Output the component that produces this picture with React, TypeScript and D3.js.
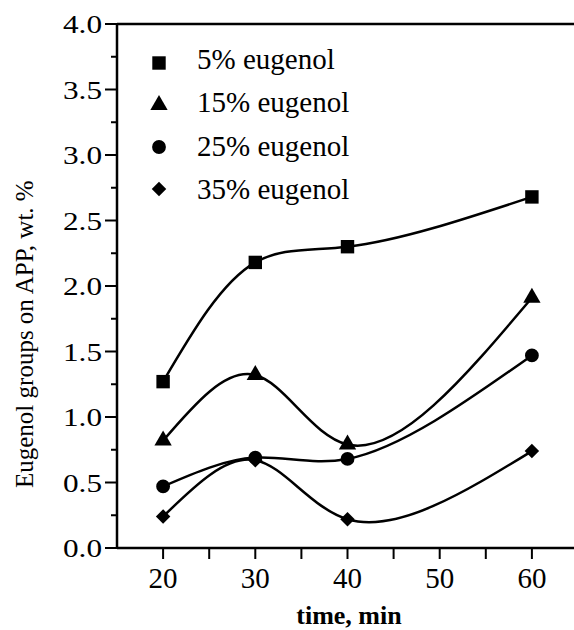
import React from "react";
import * as d3 from "d3";

const times = [20, 30, 40, 60];
const seriesNames = ["5% eugenol", "15% eugenol", "25% eugenol", "35% eugenol"];
const values5 = [1.27, 2.18, 2.3, 2.68];
const values15 = [0.82, 1.32, 0.79, 1.91];
const values25 = [0.47, 0.69, 0.68, 1.47];
const values35 = [0.24, 0.67, 0.22, 0.74];
const xTicks = [20, 30, 40, 50, 60];
const xMinorTicks = [25, 35, 45, 55];
const yTicks = [0, 0.5, 1, 1.5, 2, 2.5, 3, 3.5, 4];
const yMinorTicks = [0.25, 0.75, 1.25, 1.75, 2.25, 2.75, 3.25, 3.75];
const xTitle = "time, min";
const yTitle = "Eugenol groups on APP, wt. %";

const allSeries = [values5, values15, values25, values35];
const symbolKinds = ["square", "triangle", "circle", "diamond"];

const W = 574;
const H = 630;
const left = 117;
const top = 24;
const bottom = 548;

const x = d3.scaleLinear().domain([15, 65]).range([left, 578]);
const y = d3.scaleLinear().domain([0, 4]).range([bottom, top]);

const FONT = "'Liberation Serif', 'DejaVu Serif', 'Noto Serif', 'Times New Roman', Times, serif";

// natural cubic spline derivatives for values v over knot intervals h
function splineDerivs(v: number[], h: number[]) {
  const n = v.length - 1;
  const s: number[] = [];
  for (let i = 0; i < n; i++) s.push((v[i + 1] - v[i]) / h[i]);
  const M = new Array(n + 1).fill(0);
  const m = n - 1;
  if (m > 0) {
    const a = new Array(m).fill(0);
    const b = new Array(m).fill(0);
    const c = new Array(m).fill(0);
    const r = new Array(m).fill(0);
    for (let k = 0; k < m; k++) {
      const i = k + 1;
      a[k] = h[i - 1];
      b[k] = 2 * (h[i - 1] + h[i]);
      c[k] = h[i];
      r[k] = 6 * (s[i] - s[i - 1]);
    }
    for (let k = 1; k < m; k++) {
      const w = a[k] / b[k - 1];
      b[k] -= w * c[k - 1];
      r[k] -= w * r[k - 1];
    }
    const sol = new Array(m).fill(0);
    sol[m - 1] = r[m - 1] / b[m - 1];
    for (let k = m - 2; k >= 0; k--) sol[k] = (r[k] - c[k] * sol[k + 1]) / b[k];
    for (let k = 0; k < m; k++) M[k + 1] = sol[k];
  }
  const d: number[] = [];
  for (let i = 0; i < n; i++) d.push(s[i] - (h[i] * (2 * M[i] + M[i + 1])) / 6);
  d.push(s[n - 1] + (h[n - 1] * (M[n - 1] + 2 * M[n])) / 6);
  return d;
}

// parametric natural spline with centripetal knot spacing, as a d3 curve
function curveNaturalCentripetal(context: any) {
  let xs: number[] = [];
  let ys: number[] = [];
  return {
    areaStart() {},
    areaEnd() {},
    lineStart() {
      xs = [];
      ys = [];
    },
    point(px: number, py: number) {
      xs.push(+px);
      ys.push(+py);
    },
    lineEnd() {
      const n = xs.length - 1;
      if (n < 0) return;
      context.moveTo(xs[0], ys[0]);
      if (n < 1) return;
      const h: number[] = [];
      for (let i = 0; i < n; i++) {
        h.push(Math.sqrt(Math.hypot(xs[i + 1] - xs[i], ys[i + 1] - ys[i])) || 1);
      }
      const dx = splineDerivs(xs, h);
      const dy = splineDerivs(ys, h);
      for (let i = 0; i < n; i++) {
        const t = h[i] / 3;
        context.bezierCurveTo(
          xs[i] + dx[i] * t,
          ys[i] + dy[i] * t,
          xs[i + 1] - dx[i + 1] * t,
          ys[i + 1] - dy[i + 1] * t,
          xs[i + 1],
          ys[i + 1]
        );
      }
    },
  };
}

function Marker({ kind, cx, cy }: { kind: string; cx: number; cy: number }) {
  if (kind === "square") {
    const p = d3.symbol().type(d3.symbolSquare).size(180)();
    return <path d={p || ""} transform={`translate(${cx},${cy})`} fill="#000" />;
  }
  if (kind === "triangle") {
    const p = d3.symbol().type(d3.symbolTriangle).size(130)();
    return <path d={p || ""} transform={`translate(${cx},${cy})`} fill="#000" />;
  }
  if (kind === "circle") {
    const p = d3.symbol().type(d3.symbolCircle).size(150)();
    return <path d={p || ""} transform={`translate(${cx},${cy})`} fill="#000" />;
  }
  const p = d3.symbol().type(d3.symbolSquare).size(105)();
  return <path d={p || ""} transform={`translate(${cx},${cy}) rotate(45)`} fill="#000" />;
}

export default function App() {
  const line = d3
    .line<number>()
    .x((_, i) => x(times[i]))
    .y((v) => y(v))
    .curve(curveNaturalCentripetal as any);

  const ts = { fontFamily: FONT };

  return (
    <svg
      width={W}
      height={H}
      viewBox={`0 0 ${W} ${H}`}
      style={{ position: "absolute", left: 0, top: 0, background: "#fff" }}
    >
      <rect x={0} y={0} width={W} height={H} fill="#fff" />
      {/* axes */}
      <line x1={left} x2={W} y1={bottom} y2={bottom} stroke="#000" strokeWidth={2.5} />
      <line x1={left} x2={W} y1={top} y2={top} stroke="#000" strokeWidth={2.5} />
      <line x1={left} x2={left} y1={top} y2={bottom} stroke="#000" strokeWidth={2.5} />
      {yTicks.map((t) => (
        <g key={"yt" + t}>
          <line x1={left - 12} x2={left} y1={y(t)} y2={y(t)} stroke="#000" strokeWidth={2} />
          <text
            transform={`translate(102,${y(t) + 9}) scale(1.25,1)`}
            textAnchor="end"
            fontSize={25}
            style={ts}
          >
            {t.toFixed(1)}
          </text>
        </g>
      ))}
      {yMinorTicks.map((t) => (
        <line key={"ym" + t} x1={left - 6} x2={left} y1={y(t)} y2={y(t)} stroke="#000" strokeWidth={2} />
      ))}
      {xTicks.map((t) => (
        <g key={"xt" + t}>
          <line x1={x(t)} x2={x(t)} y1={bottom} y2={bottom + 11} stroke="#000" strokeWidth={2} />
          <text x={x(t)} y={588} textAnchor="middle" fontSize={29} style={ts}>
            {t}
          </text>
        </g>
      ))}
      {xMinorTicks.map((t) => (
        <line key={"xm" + t} x1={x(t)} x2={x(t)} y1={bottom} y2={bottom + 11} stroke="#000" strokeWidth={2} />
      ))}
      <text x={349} y={624} textAnchor="middle" fontSize={26} fontWeight="bold" style={ts}>
        {xTitle}
      </text>
      <text transform="translate(33,488) rotate(-90)" textAnchor="start" fontSize={25} style={ts}>
        {yTitle}
      </text>
      {/* series */}
      {allSeries.map((vals, si) => (
        <g key={"s" + si}>
          <path d={line(vals) || ""} fill="none" stroke="#000" strokeWidth={2.5} />
          {vals.map((v, i) => (
            <Marker key={i} kind={symbolKinds[si]} cx={x(times[i])} cy={y(v)} />
          ))}
        </g>
      ))}
      {/* legend */}
      {seriesNames.map((name, i) => (
        <g key={"lg" + i}>
          <Marker kind={symbolKinds[i]} cx={159} cy={63 + 42 * i} />
          <text x={197} y={69 + 43.3 * i} fontSize={29} style={ts}>
            {name}
          </text>
        </g>
      ))}
    </svg>
  );
}
